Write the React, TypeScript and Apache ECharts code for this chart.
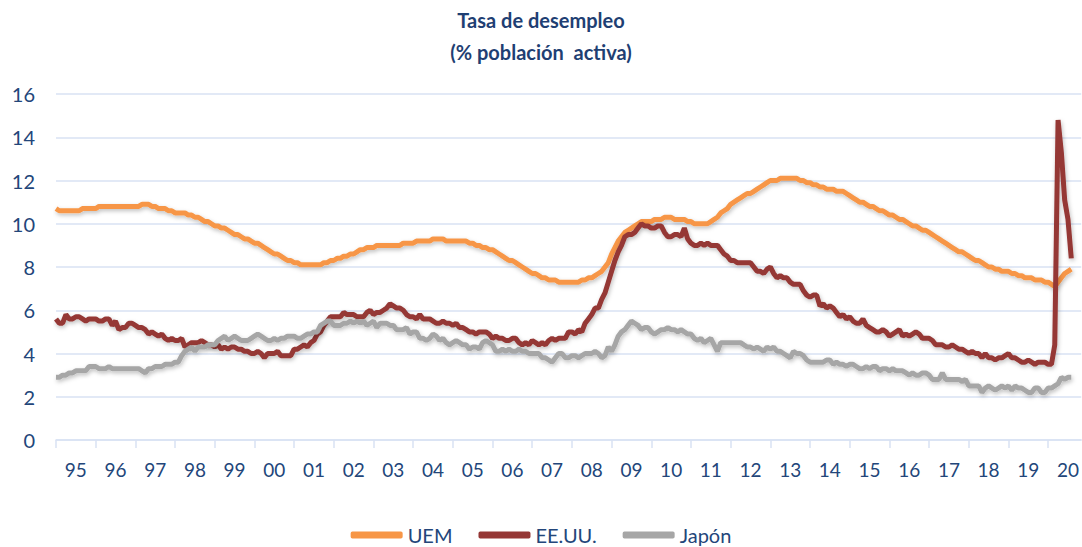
import React, { useEffect, useRef } from "react";
import * as echarts from "echarts";

// Monthly unemployment rate (% of active population), Jan 1995 – Aug 2020
const uem = [
  // 1995
  10.7, 10.6, 10.6, 10.6, 10.6, 10.6, 10.6, 10.6, 10.7, 10.7, 10.7, 10.7,
  // 1996
  10.7, 10.8, 10.8, 10.8, 10.8, 10.8, 10.8, 10.8, 10.8, 10.8, 10.8, 10.8,
  // 1997
  10.8, 10.8, 10.9, 10.9, 10.9, 10.8, 10.8, 10.7, 10.7, 10.7, 10.6, 10.6,
  // 1998
  10.5, 10.5, 10.5, 10.5, 10.4, 10.4, 10.3, 10.3, 10.2, 10.1, 10.1, 10.0,
  // 1999
  9.9, 9.9, 9.8, 9.8, 9.7, 9.6, 9.5, 9.5, 9.4, 9.3, 9.3, 9.2,
  // 2000
  9.1, 9.1, 9.0, 8.9, 8.8, 8.7, 8.6, 8.6, 8.5, 8.4, 8.3, 8.3,
  // 2001
  8.2, 8.2, 8.1, 8.1, 8.1, 8.1, 8.1, 8.1, 8.1, 8.2, 8.2, 8.3,
  // 2002
  8.3, 8.4, 8.4, 8.5, 8.5, 8.6, 8.6, 8.7, 8.8, 8.8, 8.9, 8.9,
  // 2003
  8.9, 9.0, 9.0, 9.0, 9.0, 9.0, 9.0, 9.0, 9.0, 9.1, 9.1, 9.1,
  // 2004
  9.1, 9.2, 9.2, 9.2, 9.2, 9.2, 9.3, 9.3, 9.3, 9.3, 9.2, 9.2,
  // 2005
  9.2, 9.2, 9.2, 9.2, 9.2, 9.1, 9.1, 9.0, 9.0, 8.9, 8.9, 8.8,
  // 2006
  8.8, 8.7, 8.6, 8.5, 8.4, 8.3, 8.3, 8.2, 8.1, 8.0, 7.9, 7.8,
  // 2007
  7.7, 7.7, 7.6, 7.5, 7.5, 7.4, 7.4, 7.4, 7.3, 7.3, 7.3, 7.3,
  // 2008
  7.3, 7.3, 7.3, 7.4, 7.4, 7.5, 7.5, 7.6, 7.7, 7.8, 8.0, 8.2,
  // 2009
  8.6, 8.9, 9.2, 9.4, 9.6, 9.7, 9.8, 9.9, 10.0, 10.1, 10.1, 10.1,
  // 2010
  10.1, 10.2, 10.2, 10.2, 10.3, 10.3, 10.3, 10.2, 10.2, 10.2, 10.2, 10.1,
  // 2011
  10.1, 10.0, 10.0, 10.0, 10.0, 10.0, 10.1, 10.2, 10.3, 10.5, 10.6, 10.7,
  // 2012
  10.9, 11.0, 11.1, 11.2, 11.3, 11.4, 11.4, 11.5, 11.6, 11.7, 11.8, 11.9,
  // 2013
  12.0, 12.0, 12.0, 12.1, 12.1, 12.1, 12.1, 12.1, 12.1, 12.0, 12.0, 11.9,
  // 2014
  11.9, 11.8, 11.8, 11.7, 11.7, 11.6, 11.6, 11.6, 11.5, 11.5, 11.5, 11.4,
  // 2015
  11.3, 11.2, 11.1, 11.0, 11.0, 10.9, 10.8, 10.8, 10.7, 10.6, 10.6, 10.5,
  // 2016
  10.4, 10.4, 10.3, 10.2, 10.2, 10.1, 10.0, 9.9, 9.9, 9.8, 9.7, 9.7,
  // 2017
  9.6, 9.5, 9.4, 9.3, 9.2, 9.1, 9.0, 8.9, 8.8, 8.7, 8.7, 8.6,
  // 2018
  8.5, 8.4, 8.3, 8.3, 8.2, 8.1, 8.0, 8.0, 7.9, 7.9, 7.8, 7.8,
  // 2019
  7.8, 7.7, 7.7, 7.6, 7.6, 7.5, 7.5, 7.5, 7.4, 7.4, 7.4, 7.3,
  // 2020
  7.3, 7.2, 7.1, 7.3, 7.5, 7.7, 7.8, 7.9,
];

const eeuu = [
  // 1995
  5.6, 5.4, 5.4, 5.8, 5.6, 5.6, 5.7, 5.7, 5.6, 5.5, 5.6, 5.6,
  // 1996
  5.6, 5.5, 5.5, 5.6, 5.6, 5.3, 5.5, 5.1, 5.2, 5.2, 5.4, 5.4,
  // 1997
  5.3, 5.2, 5.2, 5.1, 4.9, 5.0, 4.9, 4.8, 4.9, 4.7, 4.6, 4.7,
  // 1998
  4.6, 4.6, 4.7, 4.3, 4.4, 4.5, 4.5, 4.5, 4.6, 4.5, 4.4, 4.4,
  // 1999
  4.3, 4.4, 4.2, 4.3, 4.2, 4.3, 4.3, 4.2, 4.2, 4.1, 4.1, 4.0,
  // 2000
  4.0, 4.1, 4.0, 3.8, 4.0, 4.0, 4.0, 4.1, 3.9, 3.9, 3.9, 3.9,
  // 2001
  4.2, 4.2, 4.3, 4.4, 4.3, 4.5, 4.6, 4.9, 5.0, 5.3, 5.5, 5.7,
  // 2002
  5.7, 5.7, 5.7, 5.9, 5.8, 5.8, 5.8, 5.7, 5.7, 5.7, 5.9, 6.0,
  // 2003
  5.8, 5.9, 5.9, 6.0, 6.1, 6.3, 6.2, 6.1, 6.1, 6.0, 5.8, 5.7,
  // 2004
  5.7, 5.6, 5.8, 5.6, 5.6, 5.6, 5.5, 5.4, 5.4, 5.5, 5.4, 5.4,
  // 2005
  5.3, 5.4, 5.2, 5.2, 5.1, 5.0, 5.0, 4.9, 5.0, 5.0, 5.0, 4.9,
  // 2006
  4.7, 4.8, 4.7, 4.7, 4.6, 4.6, 4.7, 4.7, 4.5, 4.4, 4.5, 4.4,
  // 2007
  4.6, 4.5, 4.4, 4.5, 4.4, 4.6, 4.7, 4.6, 4.7, 4.7, 4.7, 5.0,
  // 2008
  5.0, 4.9, 5.1, 5.0, 5.4, 5.6, 5.8, 6.1, 6.1, 6.5, 6.8, 7.3,
  // 2009
  7.8, 8.3, 8.7, 9.0, 9.4, 9.5, 9.5, 9.6, 9.8, 10.0, 9.9, 9.9,
  // 2010
  9.8, 9.8, 9.9, 9.9, 9.6, 9.4, 9.4, 9.5, 9.5, 9.4, 9.8, 9.3,
  // 2011
  9.1, 9.0, 9.0, 9.1, 9.0, 9.1, 9.0, 9.0, 9.0, 8.8, 8.6, 8.5,
  // 2012
  8.3, 8.3, 8.2, 8.2, 8.2, 8.2, 8.2, 8.0, 7.8, 7.8, 7.7, 7.9,
  // 2013
  8.0, 7.7, 7.5, 7.6, 7.5, 7.5, 7.3, 7.2, 7.2, 7.2, 6.9, 6.7,
  // 2014
  6.6, 6.7, 6.7, 6.2, 6.3, 6.1, 6.2, 6.1, 5.9, 5.7, 5.8, 5.6,
  // 2015
  5.7, 5.5, 5.4, 5.4, 5.6, 5.3, 5.2, 5.1, 5.0, 5.0, 5.1, 5.0,
  // 2016
  4.8, 4.9, 5.0, 5.1, 4.8, 4.9, 4.8, 4.9, 5.0, 4.9, 4.7, 4.7,
  // 2017
  4.7, 4.6, 4.4, 4.4, 4.4, 4.3, 4.3, 4.4, 4.3, 4.2, 4.2, 4.1,
  // 2018
  4.0, 4.1, 4.0, 4.0, 3.8, 4.0, 3.8, 3.8, 3.7, 3.8, 3.8, 3.9,
  // 2019
  4.0, 3.8, 3.8, 3.7, 3.6, 3.6, 3.7, 3.6, 3.5, 3.6, 3.6, 3.6,
  // 2020
  3.5, 3.5, 4.4, 14.8, 13.3, 11.1, 10.2, 8.4,
];

const japon = [
  // 1995
  2.9, 2.9, 3.0, 3.0, 3.1, 3.1, 3.2, 3.2, 3.2, 3.2, 3.4, 3.4,
  // 1996
  3.4, 3.3, 3.3, 3.3, 3.4, 3.3, 3.3, 3.3, 3.3, 3.3, 3.3, 3.3,
  // 1997
  3.3, 3.3, 3.2, 3.1, 3.3, 3.3, 3.4, 3.4, 3.4, 3.5, 3.5, 3.5,
  // 1998
  3.6, 3.6, 3.9, 4.1, 4.2, 4.3, 4.1, 4.3, 4.3, 4.3, 4.4, 4.4,
  // 1999
  4.4, 4.6, 4.7, 4.8, 4.6, 4.7, 4.8, 4.7, 4.6, 4.6, 4.6, 4.7,
  // 2000
  4.8, 4.9, 4.8, 4.7, 4.6, 4.6, 4.7, 4.6, 4.7, 4.7, 4.8, 4.8,
  // 2001
  4.8, 4.7, 4.7, 4.8, 4.9, 4.9, 5.0, 5.0, 5.3, 5.4, 5.5, 5.5,
  // 2002
  5.3, 5.3, 5.3, 5.4, 5.4, 5.5, 5.4, 5.5, 5.4, 5.5, 5.3, 5.4,
  // 2003
  5.5, 5.2, 5.4, 5.4, 5.4, 5.3, 5.3, 5.1, 5.1, 5.1, 5.2, 4.9,
  // 2004
  5.0, 5.0, 4.7, 4.7, 4.6, 4.7, 4.9, 4.8, 4.6, 4.7, 4.5, 4.4,
  // 2005
  4.5, 4.6, 4.5, 4.4, 4.4, 4.2, 4.3, 4.3, 4.2, 4.5, 4.6, 4.5,
  // 2006
  4.4, 4.1, 4.1, 4.2, 4.1, 4.2, 4.1, 4.1, 4.2, 4.1, 4.1, 4.0,
  // 2007
  4.0, 4.0, 4.0, 3.8, 3.8, 3.7, 3.6, 3.8, 4.0, 4.0, 3.8, 3.8,
  // 2008
  3.9, 3.9, 3.8, 3.9, 4.0, 4.0, 4.0, 4.1, 4.0, 3.8, 3.9, 4.3,
  // 2009
  4.1, 4.4, 4.8, 5.0, 5.1, 5.3, 5.5, 5.4, 5.3, 5.1, 5.2, 5.2,
  // 2010
  5.0, 4.9, 5.0, 5.1, 5.1, 5.2, 5.1, 5.1, 5.0, 5.1, 5.0, 4.9,
  // 2011
  4.9, 4.7, 4.6, 4.7, 4.5, 4.6, 4.7, 4.4, 4.1, 4.5, 4.5, 4.5,
  // 2012
  4.5, 4.5, 4.5, 4.5, 4.4, 4.3, 4.3, 4.2, 4.3, 4.2, 4.1, 4.3,
  // 2013
  4.2, 4.3, 4.1, 4.1, 4.0, 3.9, 3.8, 4.1, 4.0, 4.0, 3.9, 3.7,
  // 2014
  3.6, 3.6, 3.6, 3.6, 3.6, 3.7, 3.7, 3.5, 3.6, 3.5, 3.5, 3.4,
  // 2015
  3.5, 3.5, 3.4, 3.3, 3.3, 3.4, 3.3, 3.4, 3.4, 3.2, 3.3, 3.3,
  // 2016
  3.2, 3.3, 3.2, 3.2, 3.2, 3.1, 3.0, 3.1, 3.0, 3.0, 3.1, 3.1,
  // 2017
  3.0, 2.8, 2.8, 2.8, 3.1, 2.8, 2.8, 2.8, 2.8, 2.8, 2.7, 2.8,
  // 2018
  2.5, 2.5, 2.5, 2.5, 2.2, 2.4, 2.5, 2.4, 2.3, 2.4, 2.5, 2.4,
  // 2019
  2.5, 2.3, 2.5, 2.4, 2.4, 2.3, 2.2, 2.2, 2.4, 2.4, 2.2, 2.2,
  // 2020
  2.4, 2.4, 2.5, 2.6, 2.9, 2.8, 2.9, 2.9,
];

// Axis: months Jan 1995 .. Nov 2020, labelled by year (two digits)
const years = [
  "1995", "1996", "1997", "1998", "1999", "2000", "2001", "2002", "2003",
  "2004", "2005", "2006", "2007", "2008", "2009", "2010", "2011", "2012",
  "2013", "2014", "2015", "2016", "2017", "2018", "2019", "2020",
];
const monthsShown = 11; // last year shown up to November
const months: string[] = [];
years.forEach((y, yi) => {
  const n = yi === years.length - 1 ? monthsShown : 12;
  for (let m = 1; m <= n; m++) months.push(`${y}-${m < 10 ? "0" + m : m}`);
});

const seriesNames = ["UEM", "EE.UU.", "Japón"];
const seriesColors = ["#F79646", "#953735", "#A6A6A6"];
const seriesData = [uem, eeuu, japon];

const TEXT = "#23467A";
const GRID = "#D9E2F3";
const FONT = "Lato, 'Open Sans', sans-serif";

export default function App() {
  const ref = useRef<HTMLDivElement>(null);
  useEffect(() => {
    if (!ref.current) return;
    const chart = echarts.init(ref.current, undefined, { renderer: "svg" });
    chart.setOption({
      animation: false,
      backgroundColor: "#ffffff",
      textStyle: { fontFamily: FONT },
      title: {
        text: "Tasa de desempleo\n(% población  activa)",
        left: "center",
        top: 4,
        padding: [0, 5],
        textStyle: {
          fontFamily: FONT,
          fontSize: 20,
          fontWeight: "bold",
          color: "#1F3F73",
          lineHeight: 32,
        },
      },
      grid: { left: 56, right: 0, top: 94, bottom: 107, containLabel: false },
      legend: {
        top: 520,
        left: "center",
        padding: 5,
        icon: "roundRect",
        itemWidth: 52,
        itemHeight: 7,
        itemGap: 26,
        textStyle: { fontFamily: FONT, fontSize: 20, color: TEXT },
        data: seriesNames,
      },
      xAxis: {
        type: "category",
        boundaryGap: false,
        data: months,
        axisLine: { show: true, lineStyle: { color: GRID, width: 1.5 } },
        axisTick: {
          show: true,
          length: 8,
          interval: (i: number) => i % 12 === 0,
          lineStyle: { color: GRID, width: 1.5 },
        },
        axisLabel: {
          interval: (i: number) => i % 12 === 6,
          formatter: (v: string) => v.slice(2, 4),
          fontFamily: FONT,
          fontSize: 19,
          color: TEXT,
          margin: 20,
        },
        splitLine: { show: false },
      },
      yAxis: {
        type: "value",
        min: 0,
        max: 16,
        interval: 2,
        axisLine: { show: false },
        axisTick: { show: false },
        axisLabel: { fontFamily: FONT, fontSize: 20, color: TEXT, margin: 21 },
        splitLine: { lineStyle: { color: GRID, width: 1.5 } },
      },
      series: seriesNames.map((name, i) => ({
        name,
        type: "line",
        data: seriesData[i],
        showSymbol: false,
        symbol: "none",
        color: seriesColors[i],
        lineStyle: {
          width: 5,
          color: seriesColors[i],
          shadowColor: "rgba(0,0,0,0.25)",
          shadowBlur: 4,
          shadowOffsetY: 2,
          shadowOffsetX: 1,
        },
        emphasis: { disabled: true },
      })),
    });
    return () => chart.dispose();
  }, []);
  return (
    <div
      ref={ref}
      style={{ position: "fixed", left: 0, top: 0, width: 1082, height: 547 }}
    />
  );
}
